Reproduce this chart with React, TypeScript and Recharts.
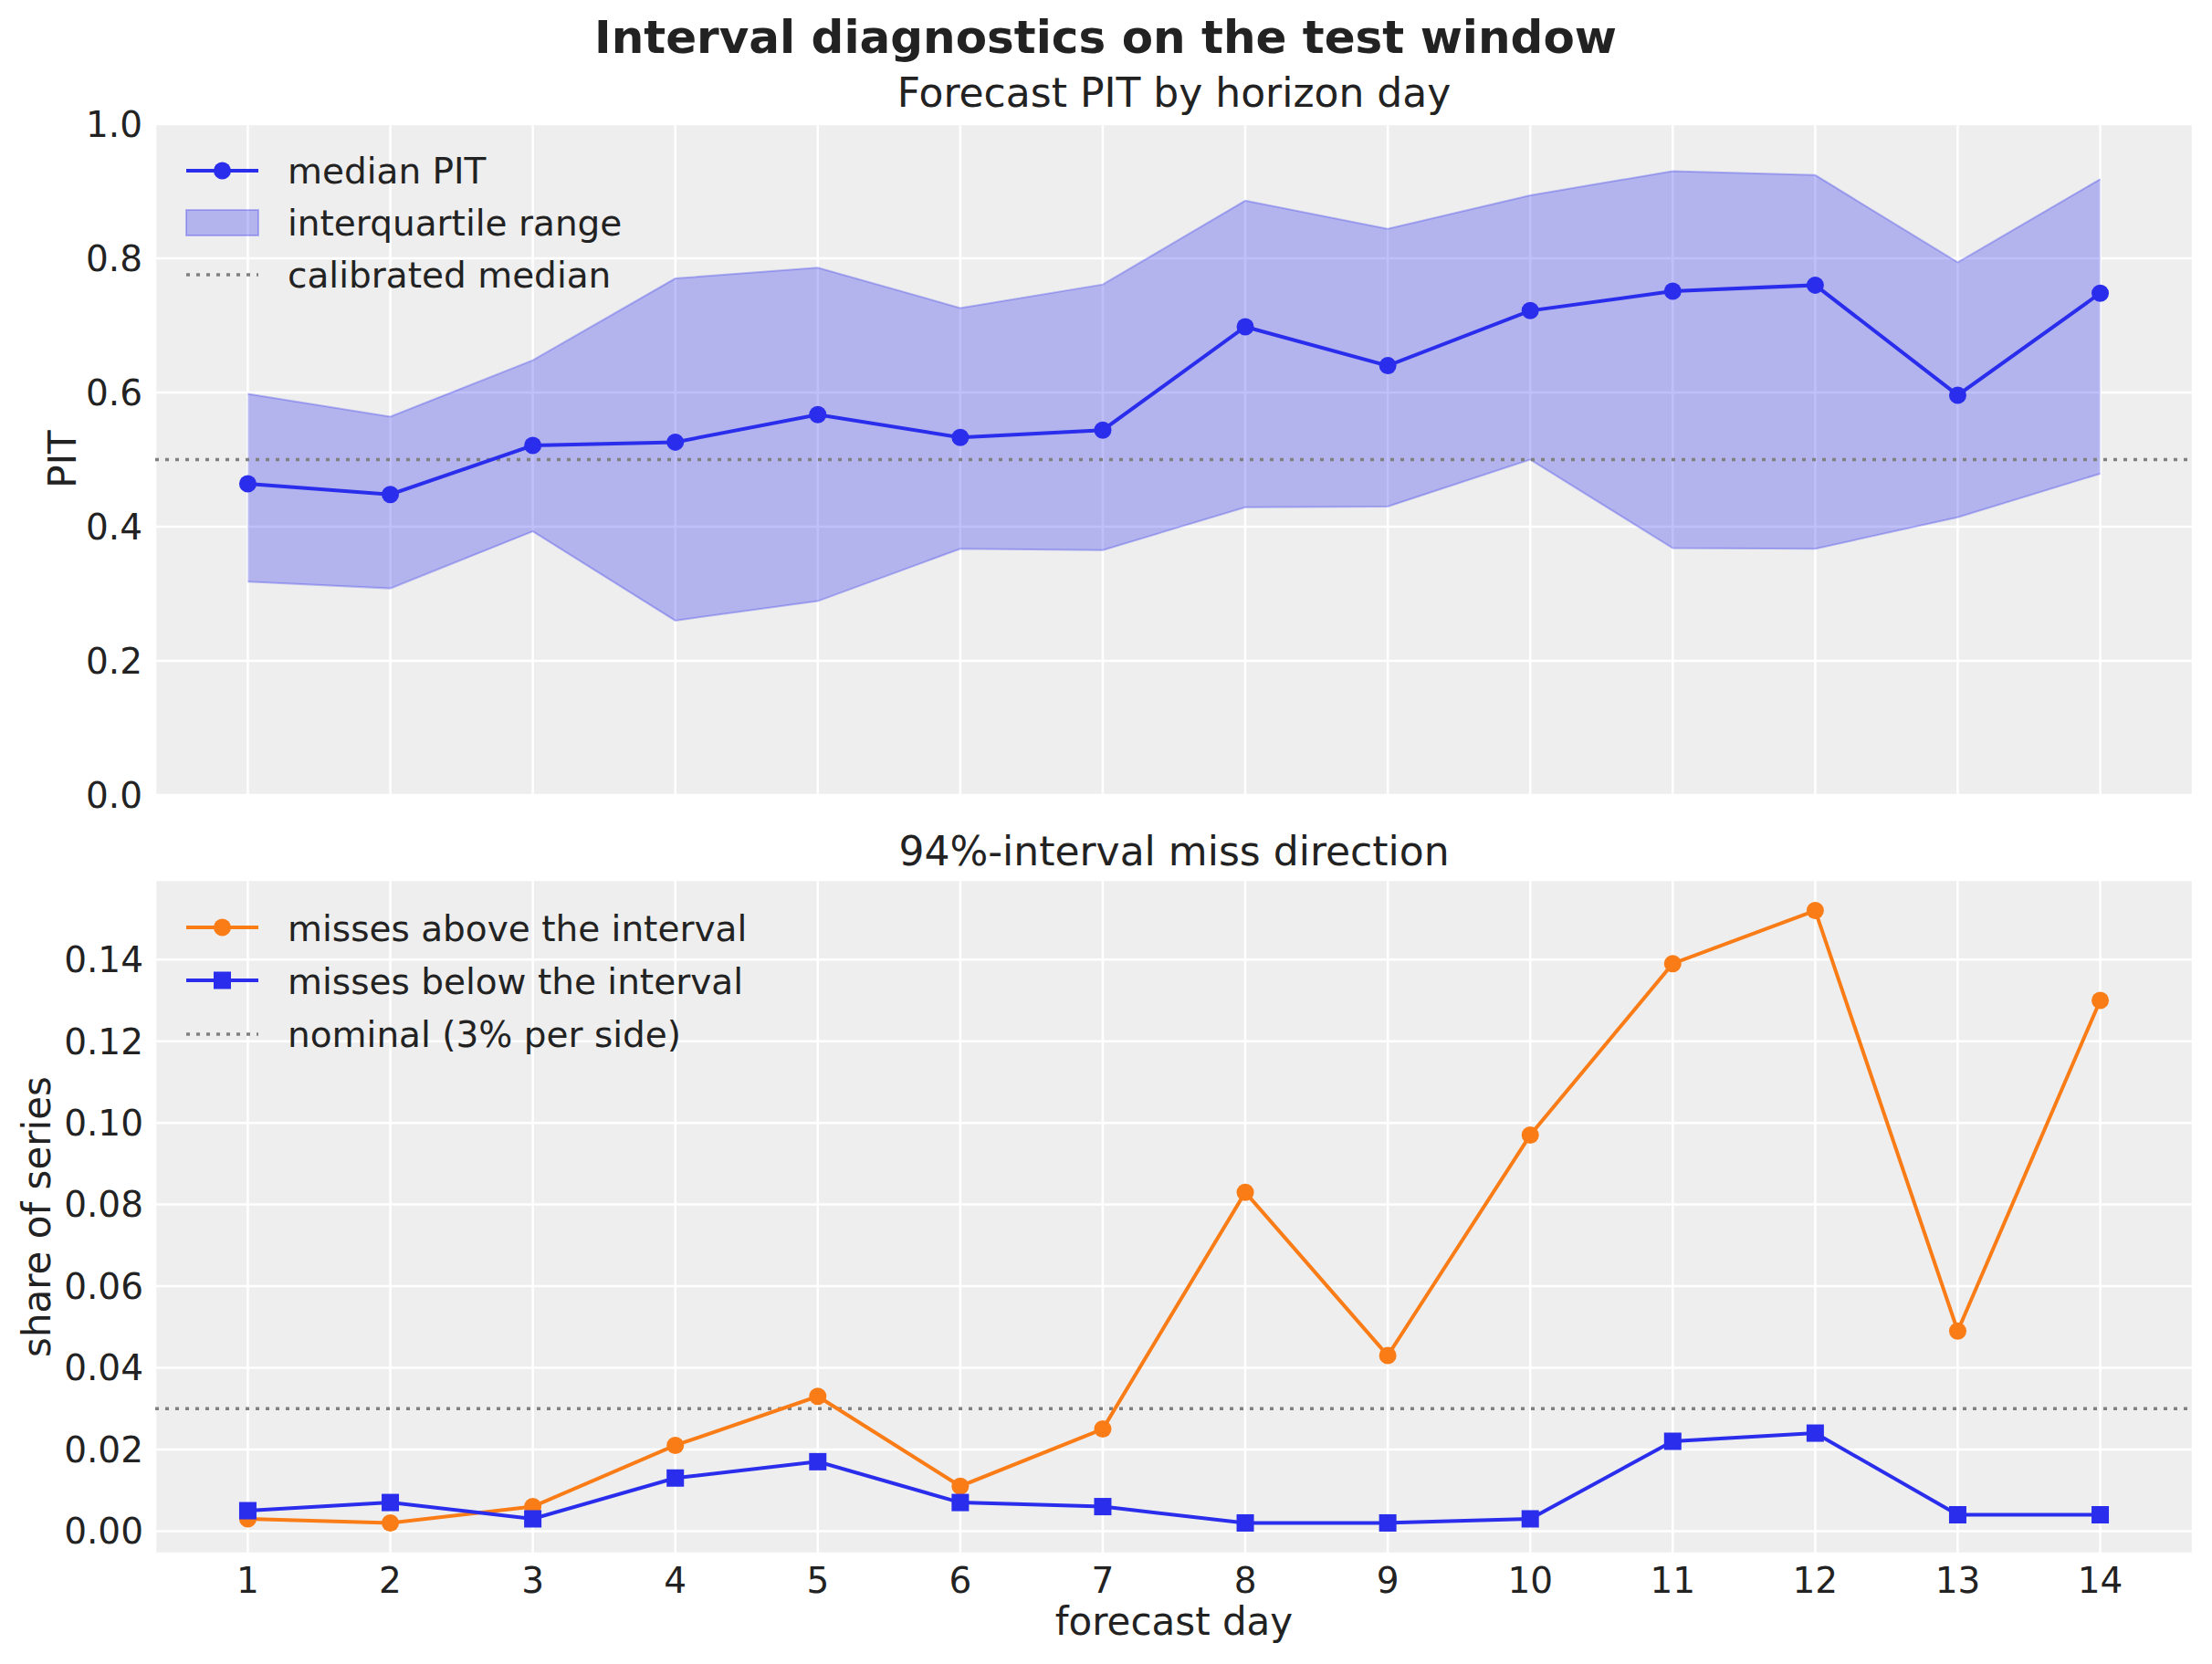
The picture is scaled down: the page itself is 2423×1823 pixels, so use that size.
import React from 'react';
import {
  ComposedChart,
  Line,
  Area,
  XAxis,
  YAxis,
  CartesianGrid,
  ReferenceLine,
} from 'recharts';

// forecast horizon (days)
const days = [1, 2, 3, 4, 5, 6, 7, 8, 9, 10, 11, 12, 13, 14];

// PIT by horizon day
const medianPit = [0.464, 0.448, 0.521, 0.526, 0.567, 0.533, 0.544, 0.698, 0.64, 0.722, 0.751, 0.76, 0.596, 0.748];
const pitQ25 = [0.318, 0.308, 0.393, 0.26, 0.289, 0.367, 0.365, 0.429, 0.43, 0.5, 0.368, 0.367, 0.414, 0.479];
const pitQ75 = [0.598, 0.564, 0.648, 0.77, 0.786, 0.726, 0.761, 0.886, 0.844, 0.894, 0.93, 0.924, 0.794, 0.918];

// share of series outside the 94% interval
const missAbove = [0.003, 0.002, 0.006, 0.021, 0.033, 0.011, 0.025, 0.083, 0.043, 0.097, 0.139, 0.152, 0.049, 0.13];
const missBelow = [0.005, 0.007, 0.003, 0.013, 0.017, 0.007, 0.006, 0.002, 0.002, 0.003, 0.022, 0.024, 0.004, 0.004];

const pitTicks = [0, 0.2, 0.4, 0.6, 0.8, 1.0];
const shareTicks = [0, 0.02, 0.04, 0.06, 0.08, 0.1, 0.12, 0.14];

const BLUE = '#2a2eec';
const ORANGE = '#fa7c17';
const GREY = '#808080';
const TEXT = '#222222';
const FONT = '"DejaVu Sans", sans-serif';

const pitData = days.map((d, i) => ({
  day: d,
  median: medianPit[i],
  band: [pitQ25[i], pitQ75[i]],
}));

const missData = days.map((d, i) => ({
  day: d,
  above: missAbove[i],
  below: missBelow[i],
}));

const tickStyle = { fill: TEXT, fontSize: 39, fontFamily: FONT };

// top panel shares the x axis with the bottom one: keep the ticks (for the grid) but draw no labels
const NoTick = () => <g />;

const SquareDot = (props: any) => {
  const { cx, cy, index } = props;
  if (cx == null || cy == null) return null;
  return <rect key={`sq-${index}`} x={cx - 9.5} y={cy - 9.5} width={19} height={19} fill={BLUE} />;
};

const Overlay = () => (
  <svg
    width={2423}
    height={1823}
    style={{ position: 'absolute', left: 0, top: 0, pointerEvents: 'none' }}
    fontFamily={FONT}
    fill={TEXT}
  >
    <text x={1211} y={58} fontSize={50} fontWeight="bold" textAnchor="middle">
      Interval diagnostics on the test window
    </text>
    <text x={1286} y={117} fontSize={44} textAnchor="middle">
      Forecast PIT by horizon day
    </text>
    <text x={1286} y={948} fontSize={44} textAnchor="middle">
      94%-interval miss direction
    </text>
    <text x={83} y={503} fontSize={42} textAnchor="middle" transform="rotate(-90 83 503)">
      PIT
    </text>
    <text x={55} y={1333} fontSize={42} textAnchor="middle" transform="rotate(-90 55 1333)">
      share of series
    </text>
    <text x={1286} y={1791} fontSize={42} textAnchor="middle">
      forecast day
    </text>

    {/* top legend */}
    <line x1={204} y1={187} x2={283} y2={187} stroke={BLUE} strokeWidth={4} />
    <circle cx={243.5} cy={187} r={9.5} fill={BLUE} />
    <text x={315} y={201} fontSize={39}>median PIT</text>
    <rect x={204} y={230} width={79} height={28} fill={BLUE} fillOpacity={0.3} stroke={BLUE} strokeOpacity={0.3} strokeWidth={2} />
    <text x={315} y={257.5} fontSize={39}>interquartile range</text>
    <line x1={204} y1={301} x2={283} y2={301} stroke={GREY} strokeWidth={3.5} strokeDasharray="4 7" />
    <text x={315} y={315} fontSize={39}>calibrated median</text>

    {/* bottom legend */}
    <line x1={204} y1={1016} x2={283} y2={1016} stroke={ORANGE} strokeWidth={4} />
    <circle cx={243.5} cy={1016} r={9.5} fill={ORANGE} />
    <text x={315} y={1031} fontSize={39}>misses above the interval</text>
    <line x1={204} y1={1074} x2={283} y2={1074} stroke={BLUE} strokeWidth={4} />
    <rect x={234} y={1064.5} width={19} height={19} fill={BLUE} />
    <text x={315} y={1089} fontSize={39}>misses below the interval</text>
    <line x1={204} y1={1133} x2={283} y2={1133} stroke={GREY} strokeWidth={3.5} strokeDasharray="4 7" />
    <text x={315} y={1147} fontSize={39}>nominal (3% per side)</text>
  </svg>
);

export default function App() {
  return (
    <div style={{ position: 'absolute', left: 0, top: 0, width: 2423, height: 1823, background: '#ffffff', fontFamily: FONT }}>
      <div style={{ position: 'absolute', left: 0, top: 0 }}>
        <ComposedChart width={2423} height={900} data={pitData} margin={{ top: 136, right: 21, bottom: 29, left: 70 }}>
          <CartesianGrid fill="#eeeeee" stroke="#ffffff" strokeWidth={2.5} />
          <XAxis
            dataKey="day"
            type="number"
            domain={[0.35, 14.65]}
            ticks={days}
            allowDataOverflow
            tick={NoTick}
            tickLine={false}
            axisLine={false}
            height={0}
          />
          <YAxis
            type="number"
            domain={[0, 1]}
            ticks={pitTicks}
            allowDataOverflow
            width={100}
            tickLine={false}
            axisLine={false}
            tickSize={0}
            tickMargin={14}
            tick={tickStyle}
            tickFormatter={(v: number) => v.toFixed(1)}
          />
          <Area
            type="linear"
            dataKey="band"
            fill={BLUE}
            fillOpacity={0.3}
            stroke={BLUE}
            strokeOpacity={0.3}
            strokeWidth={2}
            isAnimationActive={false}
          />
          <ReferenceLine y={0.5} stroke={GREY} strokeWidth={3.5} strokeDasharray="4 7" />
          <Line
            type="linear"
            dataKey="median"
            stroke={BLUE}
            strokeWidth={4}
            dot={{ r: 9.5, fill: BLUE, stroke: BLUE, strokeWidth: 0 }}
            activeDot={false}
            isAnimationActive={false}
          />
        </ComposedChart>
      </div>
      <div style={{ position: 'absolute', left: 0, top: 900 }}>
        <ComposedChart width={2423} height={923} data={missData} margin={{ top: 64, right: 21, bottom: 61, left: 70 }}>
          <CartesianGrid fill="#eeeeee" stroke="#ffffff" strokeWidth={2.5} />
          <XAxis
            dataKey="day"
            type="number"
            domain={[0.35, 14.65]}
            ticks={days}
            allowDataOverflow
            tickLine={false}
            axisLine={false}
            tickSize={0}
            tickMargin={15}
            tick={tickStyle}
            height={60}
          />
          <YAxis
            type="number"
            domain={[-0.0055, 0.1595]}
            ticks={shareTicks}
            allowDataOverflow
            width={100}
            tickLine={false}
            axisLine={false}
            tickSize={0}
            tickMargin={13}
            tick={tickStyle}
            tickFormatter={(v: number) => v.toFixed(2)}
          />
          <ReferenceLine y={0.03} stroke={GREY} strokeWidth={3.5} strokeDasharray="4 7" />
          <Line
            type="linear"
            dataKey="above"
            stroke={ORANGE}
            strokeWidth={4}
            dot={{ r: 9.5, fill: ORANGE, stroke: ORANGE, strokeWidth: 0 }}
            activeDot={false}
            isAnimationActive={false}
          />
          <Line
            type="linear"
            dataKey="below"
            stroke={BLUE}
            strokeWidth={4}
            dot={SquareDot}
            activeDot={false}
            isAnimationActive={false}
          />
        </ComposedChart>
      </div>
      <Overlay />
    </div>
  );
}
